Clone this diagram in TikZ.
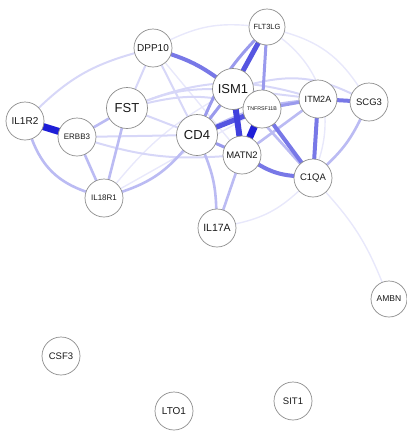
\documentclass[tikz,border=0pt]{standalone}
\usepackage{fontspec}
\setmainfont{Liberation Sans}
\usetikzlibrary{backgrounds}
\definecolor{linkblue}{RGB}{30,30,215}
\begin{document}
\begin{tikzpicture}[x=1pt,y=-1pt,
  gene/.style={circle,draw=black!45,line width=0.7pt,fill=white,minimum size=38pt,
    inner sep=0pt,text=black!90,font=\fontsize{9.5}{9}\selectfont},
  big/.style={minimum size=41pt,font=\fontsize{13}{12}\selectfont},
  link/.style={line cap=round},
  % edge strengths: colour share of blue and width
  w1/.style={link,draw=linkblue!10!white,line width=1.4pt},
  w2/.style={link,draw=linkblue!18!white,line width=2pt},
  w3/.style={link,draw=linkblue!30!white,line width=2.6pt},
  w4/.style={link,draw=linkblue!45!white,line width=3pt},
  w5/.style={link,draw=linkblue!60!white,line width=4pt},
  w6/.style={link,draw=linkblue!75!white,line width=5pt},
  w7/.style={link,draw=linkblue!100!black,line width=7pt},
]
\useasboundingbox (0,0) rectangle (407,432);

% genes
\node[gene,font=\fontsize{10}{9}\selectfont] (DPP10) at (153,48) {DPP10};
\node[gene,minimum size=36pt,font=\fontsize{7.5}{7}\selectfont] (FLT3LG) at (267,27) {FLT3LG};
\node[gene,big] (ISM1) at (233,89) {ISM1};
\node[gene,font=\fontsize{5.3}{5}\selectfont] (TNF) at (262,109) {TNFRSF11B};
\node[gene,big] (FST) at (127,108) {FST};
\node[gene,font=\fontsize{10}{9}\selectfont] (IL1R2) at (25,121) {IL1R2};
\node[gene,font=\fontsize{8}{7}\selectfont] (ERBB3) at (77,137) {ERBB3};
\node[gene,big] (CD4) at (197,135) {CD4};
\node[gene,font=\fontsize{9}{8}\selectfont] (ITM2A) at (318,99) {ITM2A};
\node[gene] (SCG3) at (369,102) {SCG3};
\node[gene] (MATN2) at (242,155) {MATN2};
\node[gene] (C1QA) at (313,178) {C1QA};
\node[gene,font=\fontsize{8}{7}\selectfont] (IL18R1) at (104,198) {IL18R1};
\node[gene,font=\fontsize{10.5}{10}\selectfont] (IL17A) at (217,228) {IL17A};
\node[gene,minimum size=36pt,font=\fontsize{8.5}{8}\selectfont] (AMBN) at (389,299) {AMBN};
\node[gene] (CSF3) at (61,356) {CSF3};
\node[gene,font=\fontsize{10}{9}\selectfont] (LTO1) at (174,411) {LTO1};
\node[gene] (SIT1) at (293,401) {SIT1};

\begin{pgfonlayer}{background}
% faint long-range links
\draw[w1] (C1QA) to[bend left=10] (AMBN);
\draw[w1] (IL17A) to[bend right=15] (C1QA);
\draw[w1] (FLT3LG) to[bend left=35] (C1QA);
\draw[w1] (FLT3LG) to[bend left=20] (SCG3);
\draw[w1] (DPP10) to[bend left=15] (FLT3LG);
\draw[w1] (IL18R1) to[bend left=10] (ISM1);
\draw[w1] (IL18R1) to (TNF);
\draw[w1] (DPP10) to (MATN2);
\draw[w2] (IL1R2) to[bend left=14] (DPP10);
\draw[w2] (DPP10) to (FST);
\draw[w2] (DPP10) to (CD4);
\draw[w2] (FST) to (CD4);
\draw[w2] (FST) to[bend left=18] (ITM2A);
\draw[w2] (FST) to[bend left=14] (TNF);
\draw[w2] (FST) to[bend left=10] (ISM1);
\draw[w2] (ERBB3) to (CD4);
\draw[w2] (ERBB3) to[bend right=10] (MATN2);
\draw[w2] (SCG3) to[bend right=20] (ISM1);
\draw[w2] (SCG3) to[bend right=8] (TNF);
\draw[w2] (ITM2A) to (ISM1);
% medium links
\draw[w3] (IL1R2) to[bend right=25] (IL18R1);
\draw[w3] (ERBB3) to (FST);
\draw[w3] (ERBB3) to (IL18R1);
\draw[w3] (FST) to (IL18R1);
\draw[w3] (IL18R1) to[bend right=15] (CD4);
\draw[w3] (ITM2A) to[bend right=10] (CD4);
\draw[w3] (ITM2A) to (MATN2);
\draw[w3] (SCG3) to[bend left=10] (C1QA);
\draw[w3] (CD4) to[bend left=10] (IL17A);
\draw[w3] (MATN2) to (IL17A);
\draw[w4] (ITM2A) to (TNF);
\draw[w4] (CD4) to (ISM1);
\draw[w4] (CD4) to (MATN2);
\draw[w4] (FLT3LG) to[bend right=10] (CD4);
\draw[w4] (FLT3LG) to (TNF);
\draw[w3] (ISM1) to (C1QA);
% strong links
\draw[w5] (DPP10) to[bend left=8] (ISM1);
\draw[w5] (ITM2A) to (C1QA);
\draw[w5] (MATN2) to[bend right=12] (C1QA);
\draw[w5] (ITM2A) to (SCG3);
\draw[w5] (TNF) to (C1QA);
\draw[w6] (FLT3LG) to (ISM1);
\draw[w6] (CD4) to (TNF);
\draw[w6,draw=linkblue!85!white,line width=6pt] (ISM1) to (MATN2);
\draw[w7] (TNF) to (MATN2);
\draw[w7] (IL1R2) to (ERBB3);
\end{pgfonlayer}
\end{tikzpicture}
\end{document}
